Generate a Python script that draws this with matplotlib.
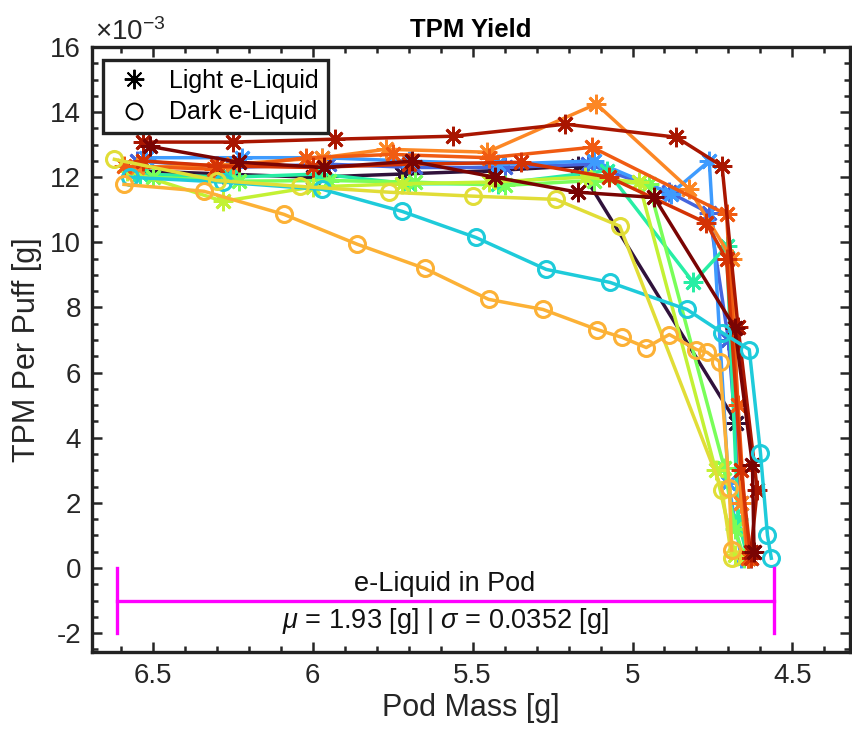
import numpy as np
import matplotlib
matplotlib.use("Agg")
import matplotlib.pyplot as plt
from matplotlib.lines import Line2D
from matplotlib.ticker import MultipleLocator

plt.rcParams["font.family"] = ["Liberation Sans", "DejaVu Sans"]
plt.rcParams["mathtext.fontset"] = "custom"
plt.rcParams["mathtext.rm"] = "Liberation Sans"
plt.rcParams["mathtext.it"] = "Liberation Sans:italic"
plt.rcParams["axes.unicode_minus"] = False

# === Data (TPM per puff in units of 1e-3 g, pod mass in g) ===

# light e-liquid pods (star markers)
light_mass = [
    [6.56, 6.28, 6.00, 5.72, 5.44, 5.17, 4.675, 4.64],
    [6.55, 6.25, 5.95, 5.68, 5.40, 5.14, 4.885, 4.76, 4.70, 4.66, 4.63],
    [6.52, 6.22, 5.97, 5.70, 5.42, 5.12, 4.88, 4.76, 4.70, 4.66],
    [6.54, 6.26, 5.98, 5.70, 5.42, 5.08, 4.81, 4.706, 4.67, 4.64],
    [6.50, 6.23, 5.95, 5.68, 5.40, 5.12, 4.95, 4.713, 4.68, 4.65],
    [6.58, 6.28, 6.00, 5.72, 5.45, 5.15, 4.98, 4.74, 4.68],
    [6.55, 6.25, 5.97, 5.77, 5.455, 5.113, 4.822, 4.69, 4.66, 4.64],
    [6.59, 6.31, 6.02, 5.75, 5.45, 5.126, 4.706, 4.67, 4.64],
    [6.53, 6.30, 6.00, 5.70, 5.35, 5.073, 4.77, 4.706, 4.66, 4.63],
    [6.53, 6.25, 5.93, 5.56, 5.21, 4.863, 4.72, 4.67, 4.61, 4.63],
    [6.51, 6.23, 5.965, 5.69, 5.43, 5.17, 4.932, 4.68, 4.625, 4.62],
]
light_tpm = [
    [12.2, 12.1, 12.0, 12.1, 12.2, 12.35, 4.46, 0.3],
    [12.5, 12.3, 12.4, 12.3, 12.3, 12.4, 11.54, 10.9, 7.0, 2.0, 0.3],
    [12.6, 12.6, 12.6, 12.5, 12.4, 12.5, 11.5, 12.5, 2.6, 0.3],
    [12.1, 12.0, 12.1, 11.8, 11.8, 12.2, 8.77, 9.88, 1.5, 0.3],
    [12.0, 11.88, 11.9, 11.85, 11.75, 11.9, 11.8, 3.08, 1.2, 0.3],
    [12.2, 11.26, 11.7, 11.8, 11.85, 12.0, 11.85, 3.0, 0.4],
    [12.3, 12.4, 12.6, 12.86, 12.77, 14.25, 11.63, 9.5, 2.0, 0.3],
    [12.34, 12.25, 12.6, 12.7, 12.6, 12.92, 10.86, 5.0, 0.3],
    [12.5, 12.35, 12.3, 12.4, 12.46, 12.0, 10.6, 9.48, 3.0, 0.3],
    [13.08, 13.08, 13.17, 13.26, 13.63, 13.23, 12.34, 7.4, 2.4, 0.5],
    [12.95, 12.46, 12.3, 12.49, 12.0, 11.54, 11.38, 7.38, 3.17, 0.5],
]
light_colors = [0.0, 0.12, 0.2, 0.36, 0.45, 0.55, 0.74, 0.8, 0.87, 0.94, 1.0]

# dark e-liquid pods (circle markers)
dark_mass = [
    [6.57, 6.28, 5.97, 5.72, 5.49, 5.27, 5.07, 4.83, 4.72, 4.635, 4.60, 4.578, 4.566],
    [6.62, 6.30, 6.04, 5.76, 5.50, 5.24, 5.04, 4.72, 4.69],
    [6.59, 6.34, 6.09, 5.86, 5.65, 5.45, 5.28, 5.11, 5.032, 4.957, 4.885, 4.80,
     4.766, 4.728, 4.697, 4.69],
]
dark_tpm = [
    [12.0, 11.85, 11.63, 10.95, 10.15, 9.17, 8.77, 7.94, 7.23, 6.71, 3.54, 1.0, 0.3],
    [12.55, 11.9, 11.72, 11.54, 11.42, 11.32, 10.5, 2.4, 0.3],
    [11.78, 11.57, 10.86, 9.94, 9.2, 8.25, 7.94, 7.32, 7.08, 6.77, 7.17, 6.71,
     6.62, 6.34, 2.46, 0.55],
]
dark_colors = [0.28, 0.6, 0.68]

# e-liquid bracket: mean full / empty pod mass
full_mass = 6.613
empty_mass = 4.559
liquid_mu = 1.93
liquid_sigma = 0.0352

# === Plot ===

fig = plt.figure(figsize=(8.53, 7.31), dpi=100)
ax = fig.add_axes([92 / 853, 1 - 652 / 731, 758 / 853, 605 / 731])
cmap = plt.get_cmap("turbo")

for xs, ys, c in zip(light_mass, light_tpm, light_colors):
    ax.plot(xs, ys, color=cmap(c), lw=2.5, marker=(8, 2, 0),
            markersize=14, markeredgewidth=2.0)

for xs, ys, c in zip(dark_mass, dark_tpm, dark_colors):
    ax.plot(xs, ys, color=cmap(c), lw=2.5, marker="o", markersize=11.5,
            markerfacecolor="none", markeredgewidth=2.2)

# bracket showing liquid in the pod
mag = "#ff00ff"
ax.plot([full_mass, empty_mass], [-1, -1], color=mag, lw=2.4)
ax.plot([full_mass, full_mass], [0, -2], color=mag, lw=2.4)
ax.plot([empty_mass, empty_mass], [0, -2], color=mag, lw=2.4)
mid = (full_mass + empty_mass) / 2
ax.text(mid, -0.5, "e-Liquid in Pod", ha="center", va="center", fontsize=19.5,
        color="#111111")
ax.text(mid, -1.62, rf"$\mu$ = {liquid_mu} [g] | $\sigma$ = {liquid_sigma} [g]",
        ha="center", va="center", fontsize=19.5, color="#111111")

ax.set_xlim(6.69, 4.32)
ax.set_ylim(-2.58, 16)
ax.xaxis.set_major_locator(MultipleLocator(0.5))
ax.xaxis.set_minor_locator(MultipleLocator(0.1))
ax.yaxis.set_major_locator(MultipleLocator(2))
ax.yaxis.set_minor_locator(MultipleLocator(0.5))
ax.xaxis.set_major_formatter(plt.FuncFormatter(lambda v, p: f"{v:g}"))
ax.tick_params(which="both", direction="in", top=True, right=True,
               width=1.8, labelsize=20, colors="#262626")
ax.tick_params(which="major", length=7, pad=8)
ax.tick_params(which="minor", length=4)
for s in ax.spines.values():
    s.set_linewidth(2.4)
    s.set_color("#222222")

ax.set_xlabel("Pod Mass [g]", fontsize=22, color="#262626", labelpad=3)
ax.set_ylabel("TPM Per Puff [g]", fontsize=22, color="#262626", labelpad=6)
ax.set_title("TPM Yield", fontsize=18.5, fontweight="bold", pad=7)
fig.text(95 / 853, 1 - 40 / 731, r"$\times10^{-3}$", fontsize=20, color="#262626")

handles = [
    Line2D([], [], color="black", ls="none", marker=(8, 2, 0), markersize=14,
           markeredgewidth=1.4),
    Line2D([], [], color="black", ls="none", marker="o", markersize=11.5,
           markerfacecolor="none", markeredgewidth=1.4),
]
leg = ax.legend(handles, ["Light e-Liquid", "Dark e-Liquid"], loc="upper left",
                bbox_to_anchor=(0.0145, 0.9785), borderaxespad=0, fontsize=18,
                fancybox=False, framealpha=1, edgecolor="#222222",
                handletextpad=0.5, borderpad=0.35, labelspacing=0.3,
                handlelength=1.8)
leg.get_frame().set_linewidth(2.4)

fig.savefig("out.png", dpi=100)
